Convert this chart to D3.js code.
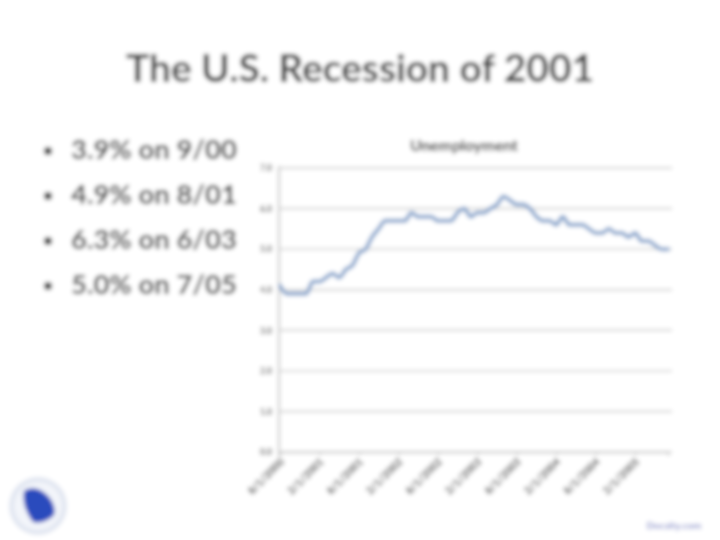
<!DOCTYPE html>
<html>
<head>
<meta charset="utf-8">
<script src="https://cdn.jsdelivr.net/npm/d3@7"></script>
<style>
  html, body { margin: 0; padding: 0; background: #fff; }
  svg { display: block; }
</style>
</head>
<body>
<svg id="chart" width="720" height="540"></svg>
<script>
// ---- data ----
const slideTitle = "The U.S. Recession of 2001";
const bullets = ["3.9% on 9/00", "4.9% on 8/01", "6.3% on 6/03", "5.0% on 7/05"];
const chartTitle = "Unemployment";
const months = [
  "2000-08","2000-09","2000-10","2000-11","2000-12",
  "2001-01","2001-02","2001-03","2001-04","2001-05","2001-06","2001-07","2001-08","2001-09","2001-10","2001-11","2001-12",
  "2002-01","2002-02","2002-03","2002-04","2002-05","2002-06","2002-07","2002-08","2002-09","2002-10","2002-11","2002-12",
  "2003-01","2003-02","2003-03","2003-04","2003-05","2003-06","2003-07","2003-08","2003-09","2003-10","2003-11","2003-12",
  "2004-01","2004-02","2004-03","2004-04","2004-05","2004-06","2004-07","2004-08","2004-09","2004-10","2004-11","2004-12",
  "2005-01","2005-02","2005-03","2005-04","2005-05","2005-06","2005-07"
];
const unemployment = [
  4.1, 3.9, 3.9, 3.9, 3.9,
  4.2, 4.2, 4.3, 4.4, 4.3, 4.5, 4.6, 4.9, 5.0, 5.3, 5.5, 5.7,
  5.7, 5.7, 5.7, 5.9, 5.8, 5.8, 5.8, 5.7, 5.7, 5.7, 5.9, 6.0,
  5.8, 5.9, 5.9, 6.0, 6.1, 6.3, 6.2, 6.1, 6.1, 6.0, 5.8, 5.7,
  5.7, 5.6, 5.8, 5.6, 5.6, 5.6, 5.5, 5.4, 5.4, 5.5, 5.4, 5.4,
  5.3, 5.4, 5.2, 5.2, 5.1, 5.0, 5.0
];
const xTickMonths = ["2000-08","2001-02","2001-08","2002-02","2002-08","2003-02","2003-08","2004-02","2004-08","2005-02"];
const xTickLabels = ["8/1/2000","2/1/2001","8/1/2001","2/1/2002","8/1/2002","2/1/2003","8/1/2003","2/1/2004","8/1/2004","2/1/2005"];
const yTicks = [0, 1, 2, 3, 4, 5, 6, 7];
const footerText = "Docsity.com";

// ---- drawing ----
const svg = d3.select("#chart");
const defs = svg.append("defs");
defs.append("filter").attr("id", "soft").attr("x", "-5%").attr("y", "-5%").attr("width", "110%").attr("height", "110%")
  .append("feGaussianBlur").attr("stdDeviation", 2.3);

const g = svg.append("g").attr("filter", "url(#soft)");
g.append("rect").attr("width", 720).attr("height", 540).attr("fill", "#fff");

const FONT = "Lato, 'Open Sans', 'DejaVu Sans', sans-serif";

function fitWidth(sel, target) {
  const w = sel.node().getComputedTextLength();
  const fs = parseFloat(sel.attr("font-size"));
  sel.attr("font-size", fs * target / w);
  return fs * target / w;
}

// slide title
const t = g.append("text").attr("x", 360).attr("y", 82).attr("text-anchor", "middle")
  .attr("font-family", FONT).attr("font-weight", "bold").attr("font-size", 40).attr("fill", "#3a3a3a")
  .text(slideTitle);
fitWidth(t, 468);

// bullets
const bulletY = [151, 196, 241, 286];
let bulletFs = 24;
bullets.forEach((b, i) => {
  g.append("circle").attr("cx", 48).attr("cy", bulletY[i]).attr("r", 4).attr("fill", "#3a3a3a");
  const bt = g.append("text").attr("x", 71).attr("y", bulletY[i] + 8)
    .attr("font-family", FONT).attr("font-weight", "bold").attr("font-size", bulletFs).attr("fill", "#3a3a3a").text(b);
  if (i === 0) bulletFs = fitWidth(bt, 166);
});

// chart
const x = d3.scalePoint().domain(months).range([280, 668]);
const y = d3.scaleLinear().domain([0, 7]).range([452, 168]);

// gridlines
g.append("g").selectAll("line").data(yTicks).join("line")
  .attr("x1", 280).attr("x2", 672)
  .attr("y1", d => y(d)).attr("y2", d => y(d))
  .attr("stroke", "#c2c2c2").attr("stroke-width", 1.4);

// y labels
const yAxis = g.append("g").attr("transform", "translate(280,0)")
  .call(d3.axisLeft(y).tickValues(yTicks).tickFormat(d3.format(".1f")).tickSize(0).tickPadding(8));
yAxis.select(".domain").remove();
yAxis.selectAll("text").attr("font-family", FONT).attr("font-weight", "bold").attr("font-size", 8.5).attr("fill", "#555");

// vertical axis line
g.append("line").attr("x1", 279).attr("x2", 279).attr("y1", 166).attr("y2", 456)
  .attr("stroke", "#c2c2c2").attr("stroke-width", 2);

// x axis
const xAxis = g.append("g").attr("transform", "translate(0,452)")
  .call(d3.axisBottom(x).tickValues(xTickMonths)
    .tickFormat(d => xTickLabels[xTickMonths.indexOf(d)]).tickSize(4).tickPadding(2));
xAxis.select(".domain").attr("stroke", "#c2c2c2").attr("stroke-width", 1.4);
xAxis.selectAll(".tick line").attr("stroke", "#c2c2c2");
xAxis.selectAll("text")
  .attr("font-family", FONT).attr("font-size", 10.5).attr("font-weight", "bold").attr("fill", "#333")
  .attr("text-anchor", "end")
  .attr("transform", "translate(-1,5) rotate(-45)")
  .attr("dy", "0.35em").attr("y", 4).attr("x", 0);

// chart title
const ct = g.append("text").attr("x", 464).attr("y", 151).attr("text-anchor", "middle")
  .attr("font-family", FONT).attr("font-weight", "bold").attr("font-size", 11).attr("fill", "#222")
  .text(chartTitle);
fitWidth(ct, 108);

// line
const line = d3.line().x((d, i) => x(months[i])).y(d => y(d)).curve(d3.curveMonotoneX);
g.append("path").datum(unemployment).attr("d", line)
  .attr("fill", "none").attr("stroke", "#86a4cc").attr("stroke-width", 4)
  .attr("stroke-linejoin", "round").attr("stroke-linecap", "round");

// logo
g.append("circle").attr("cx", 38).attr("cy", 506).attr("r", 29).attr("fill", "#e1e6f1");
g.append("circle").attr("cx", 38).attr("cy", 506).attr("r", 24).attr("fill", "#f3f5fa");
g.append("path")
  .attr("d", "M24,491 C31,486 40,488 47,495 C53,501 56,509 54,515 C48,521 40,524 33,522 C27,514 22,503 24,491 Z")
  .attr("fill", "#2a4cbd");

// footer
g.append("text").attr("x", 674).attr("y", 529).attr("text-anchor", "middle")
  .attr("font-family", FONT).attr("font-weight", "bold").attr("font-size", 10).attr("fill", "#8a92cc")
  .text(footerText);
</script>
</body>
</html>
